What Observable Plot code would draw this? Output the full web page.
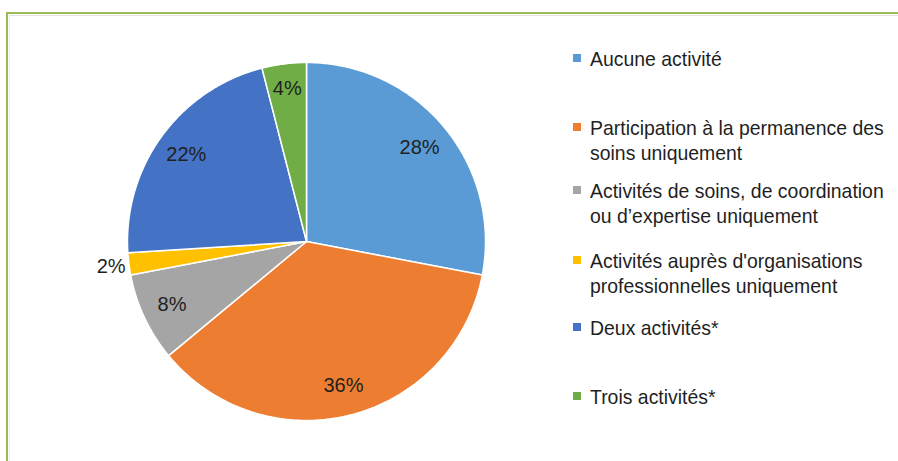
<!DOCTYPE html>
<html>
<head>
<meta charset="utf-8">
<script src="https://cdn.jsdelivr.net/npm/d3@7"></script>
<script src="https://cdn.jsdelivr.net/npm/@observablehq/plot@0.6"></script>
<style>
  html, body { margin: 0; padding: 0; background: #fff; }
  #wrap { position: relative; width: 898px; height: 461px; overflow: hidden; font-family: "Liberation Sans", Arial, sans-serif; }
  #frame { position: absolute; left: 6px; top: 12px; width: 1000px; height: 1000px; border: 2.5px solid #9BBB59; box-sizing: border-box; }
  #frame2 { position: absolute; left: 9px; top: 15px; width: 1000px; height: 1000px; border-top: 1px solid #e4e4e4; border-left: 1px solid #ececec; }
  #chart { position: absolute; left: 0; top: 0; }
  .leg { position: absolute; left: 570px; color: #1f1f1f; font-size: 21px; line-height: 25px; }
  .leg .sw { position: absolute; left: 3px; top: 8px; width: 8px; height: 8px; }
  .leg .tx { margin-left: 20px; white-space: nowrap; transform: scaleX(0.925); transform-origin: 0 50%; }
</style>
</head>
<body>
<div id="wrap">
  <div id="frame"></div>
  <div id="frame2"></div>
  <div id="chart"></div>
</div>
<script>
// Data
const categories = [
  "Aucune activité",
  "Participation à la permanence des soins uniquement",
  "Activités de soins, de coordination ou d’expertise uniquement",
  "Activités auprès d'organisations professionnelles uniquement",
  "Deux activités*",
  "Trois activités*"
];
const legendLines = [
  ["Aucune activité"],
  ["Participation à la permanence des", "soins uniquement"],
  ["Activités de soins, de coordination", "ou d’expertise uniquement"],
  ["Activités auprès d'organisations", "professionnelles uniquement"],
  ["Deux activités*"],
  ["Trois activités*"]
];
const values = [28, 36, 8, 2, 22, 4];
const labels = ["28%", "36%", "8%", "2%", "22%", "4%"];
const colors = ["#5B9BD5", "#ED7D31", "#A5A5A5", "#FFC000", "#4472C4", "#70AD47"];

// Layout (not data)
const legendTop = [46, 115, 178, 248, 315, 384];
const labelRadius = [0.82, 0.83, 0.83, 1.1, 0.83, 0.86];

// Compute slices
const pie = d3.pie().sort(null).value(d => d)(values);
const slicePts = [];
const labelPts = [];
pie.forEach((a, i) => {
  const cat = categories[i];
  slicePts.push({cat, x: 0, y: 0});
  const n = Math.max(2, Math.ceil((a.endAngle - a.startAngle) / 0.01));
  for (let j = 0; j <= n; j++) {
    const t = a.startAngle + (a.endAngle - a.startAngle) * j / n;
    slicePts.push({cat, x: Math.sin(t), y: Math.cos(t)});
  }
  slicePts.push({cat, x: 0, y: 0});
  const m = (a.startAngle + a.endAngle) / 2;
  labelPts.push({cat, label: labels[i], x: Math.sin(m) * labelRadius[i], y: Math.cos(m) * labelRadius[i]});
});

const chart = Plot.plot({
  width: 898,
  height: 461,
  margin: 0,
  style: {background: "transparent", fontFamily: "Liberation Sans, Arial, sans-serif"},
  x: {domain: [-1, 1], range: [127, 485], axis: null},
  y: {domain: [-1, 1], range: [420, 62], axis: null},
  color: {domain: categories, range: colors},
  marks: [
    Plot.line(slicePts, {x: "x", y: "y", z: "cat", fill: "cat", stroke: "#fff", strokeWidth: 1.5, strokeLinejoin: "round", curve: "linear"}),
    Plot.text(labelPts, {x: "x", y: "y", text: "label", fontSize: 20, fill: "#1f1f1f"})
  ]
});
document.getElementById("chart").appendChild(chart);

// Legend (HTML)
const wrap = document.getElementById("wrap");
categories.forEach((c, i) => {
  const d = document.createElement("div");
  d.className = "leg";
  d.style.top = legendTop[i] + "px";
  const sw = document.createElement("div");
  sw.className = "sw";
  sw.style.background = colors[i];
  d.appendChild(sw);
  legendLines[i].forEach(line => {
    const t = document.createElement("div");
    t.className = "tx";
    t.textContent = line;
    d.appendChild(t);
  });
  wrap.appendChild(d);
});
</script>
</body>
</html>
